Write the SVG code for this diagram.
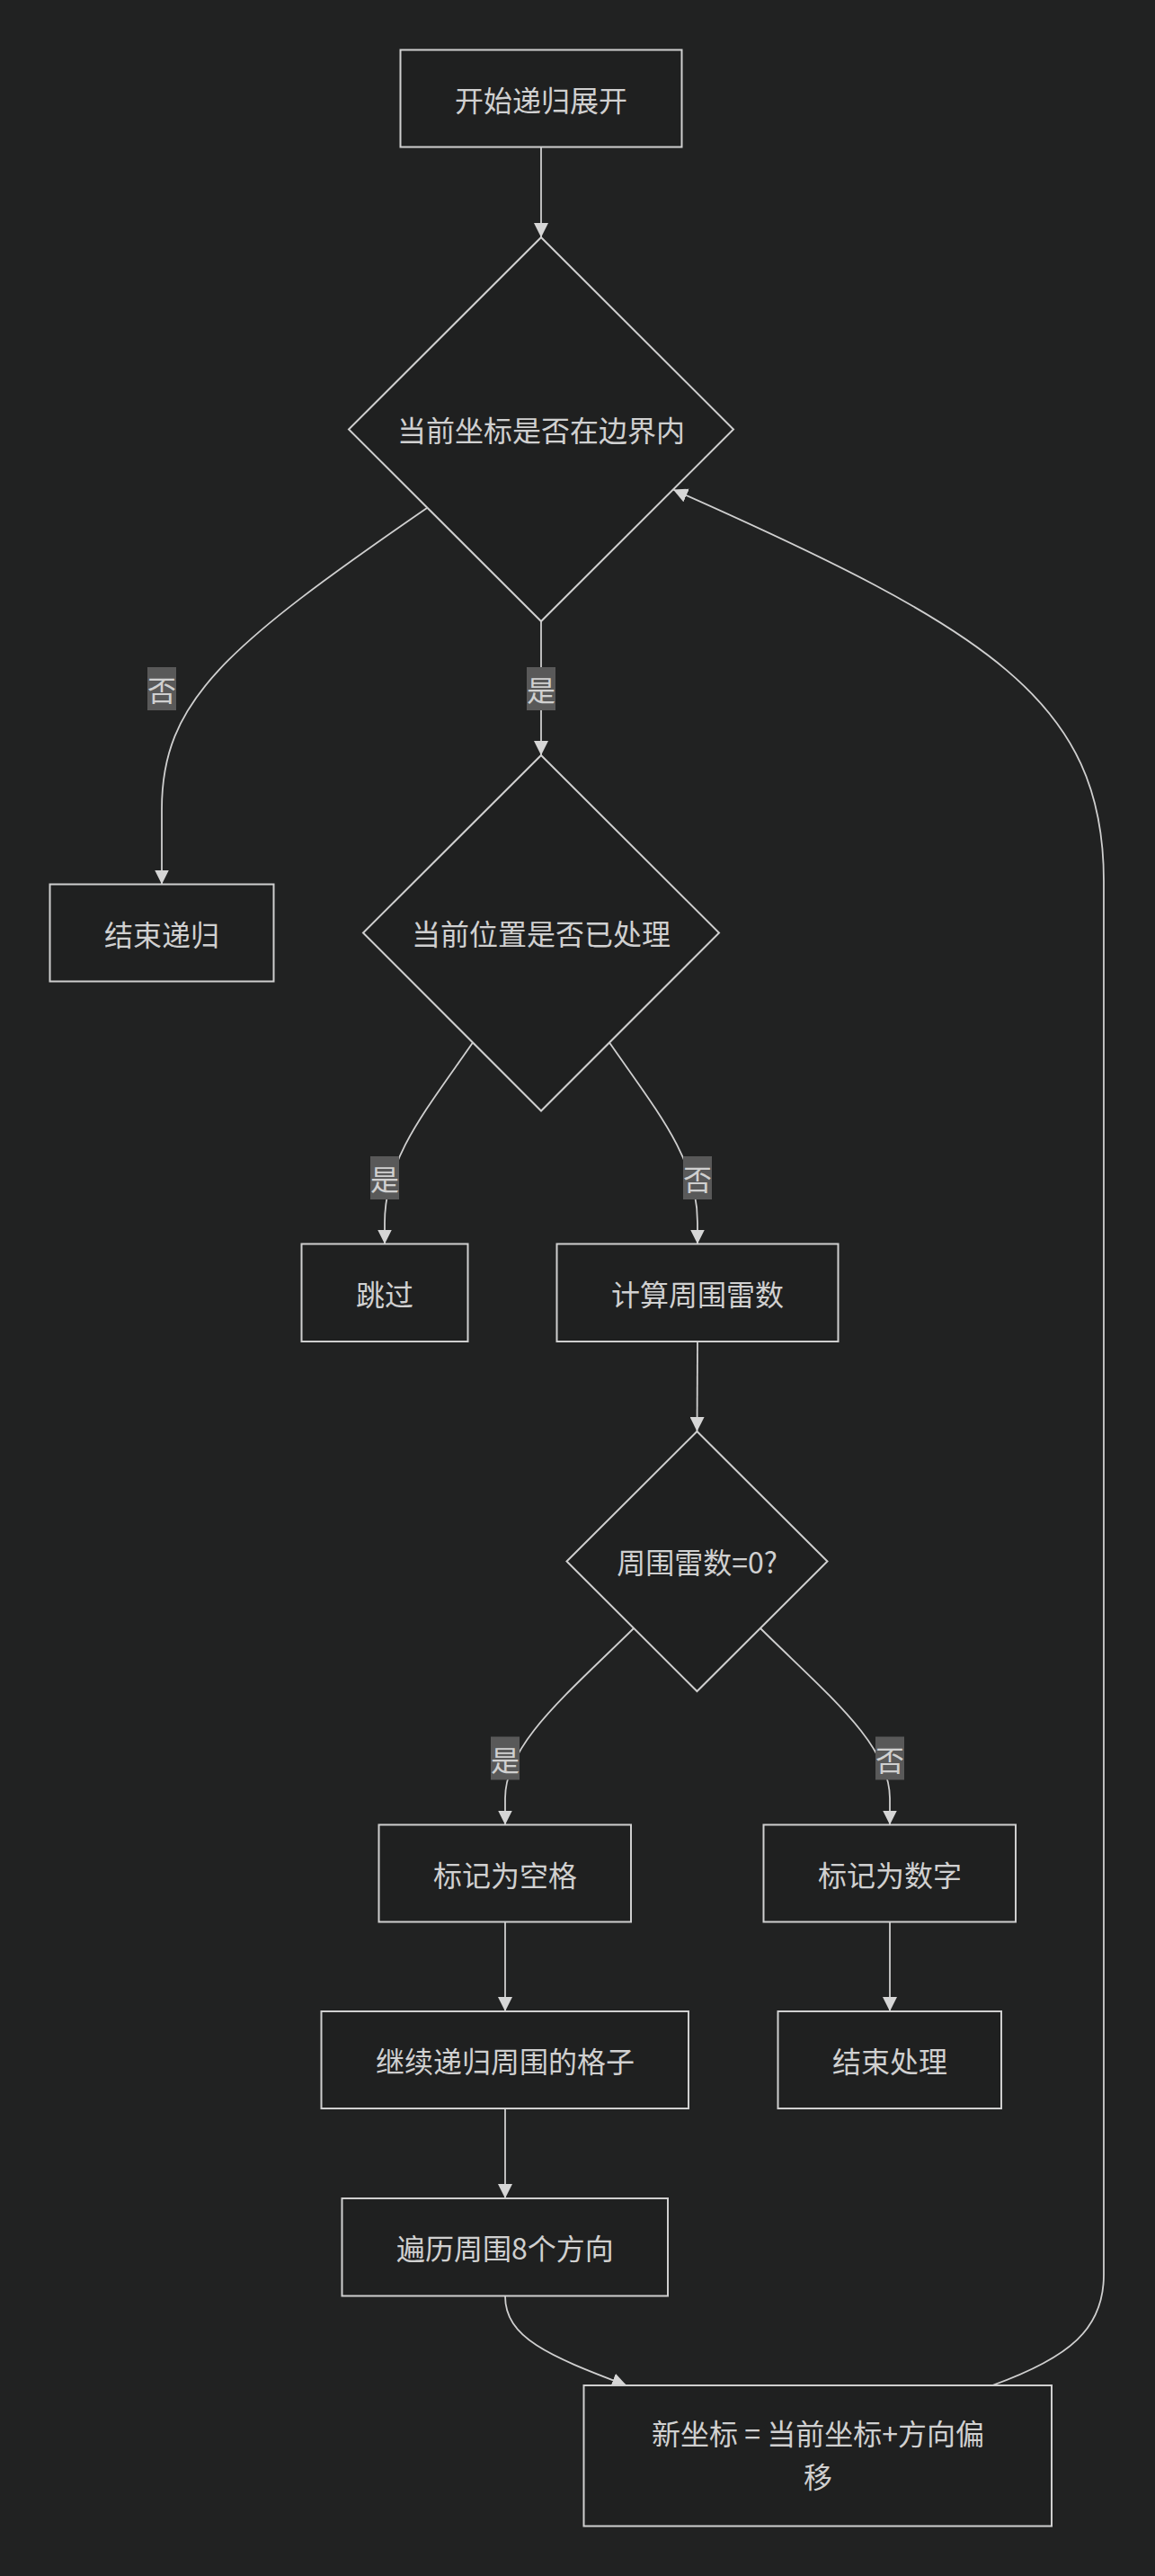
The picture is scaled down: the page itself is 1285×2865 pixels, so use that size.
<svg xmlns="http://www.w3.org/2000/svg" width="1285" height="2865" viewBox="0 0 1285 2865">
<style>
.bg{fill:#212222}
.node rect,.node polygon{fill:#1f2020;stroke:#cfcfcf;stroke-width:2}
.node text,.lbl text{font-family:"Noto Sans CJK SC","Noto Sans",sans-serif;font-size:32px;fill:#d0d0d0;text-anchor:middle;dominant-baseline:central}
.edge{fill:none;stroke:#cfcfcf;stroke-width:1.8}
.lbl rect{fill:#595959}
</style>
<defs>
<marker id="arrow" markerUnits="userSpaceOnUse" markerWidth="16" markerHeight="16" refX="16" refY="8" orient="auto">
<path d="M0,0 L16,8 L0,16 z" fill="#d6d6d6"/>
</marker>
</defs>
<rect class="bg" x="0" y="0" width="1285" height="2865"/>
<g id="connectors">
<path class="edge" marker-end="url(#arrow)" d="M602,163.5 L602,264"/>
<path class="edge" marker-end="url(#arrow)" d="M475,565 C250,720 180,780 180,900 L180,983.5"/>
<path class="edge" marker-end="url(#arrow)" d="M602,691 L602,840"/>
<path class="edge" marker-end="url(#arrow)" d="M526,1159.5 C470,1240 428,1290 428,1360 L428,1383.5"/>
<path class="edge" marker-end="url(#arrow)" d="M678,1159.5 C734,1240 776,1290 776,1360 L776,1383.5"/>
<path class="edge" marker-end="url(#arrow)" d="M776,1492 L775.5,1592"/>
<path class="edge" marker-end="url(#arrow)" d="M705,1811 C630,1885 562,1940 562,2000 L562,2029.5"/>
<path class="edge" marker-end="url(#arrow)" d="M846,1811 C921,1885 990,1940 990,2000 L990,2029.5"/>
<path class="edge" marker-end="url(#arrow)" d="M562,2137.5 L562,2237"/>
<path class="edge" marker-end="url(#arrow)" d="M990,2137.5 L990,2237"/>
<path class="edge" marker-end="url(#arrow)" d="M562,2345 L562,2445"/>
<path class="edge" marker-end="url(#arrow)" d="M562,2553.5 C562,2600 610,2620 697,2653"/>
<path class="edge" marker-end="url(#arrow)" d="M1104,2653 C1190,2622 1228,2590 1228,2530 L1228,980 C1228,780 1100,700 749,544.5"/>
</g>
<g id="edge-labels">
<g class="lbl"><rect x="164" y="742" width="32" height="48"/><text x="180" y="766">否</text></g>
<g class="lbl"><rect x="586" y="742" width="32" height="48"/><text x="602" y="766">是</text></g>
<g class="lbl"><rect x="412" y="1286" width="32" height="48"/><text x="428" y="1310">是</text></g>
<g class="lbl"><rect x="760" y="1286" width="32" height="48"/><text x="776" y="1310">否</text></g>
<g class="lbl"><rect x="546" y="1931.5" width="32" height="48"/><text x="562" y="1955.5">是</text></g>
<g class="lbl"><rect x="974" y="1931.5" width="32" height="48"/><text x="990" y="1955.5">否</text></g>
</g>
<g id="n_start" class="node"><rect x="445.5" y="55.5" width="313" height="108"/><text x="602" y="109.5">开始递归展开</text></g>
<g id="n_inbounds" class="node"><polygon points="602,264 816,477.5 602,691 388,477.5"/><text x="602" y="477">当前坐标是否在边界内</text></g>
<g id="n_endrec" class="node"><rect x="55.5" y="983.5" width="249" height="108"/><text x="180" y="1037.5">结束递归</text></g>
<g id="n_processed" class="node"><polygon points="602,840 800,1037.5 602,1235.5 404,1037.5"/><text x="602" y="1037">当前位置是否已处理</text></g>
<g id="n_skip" class="node"><rect x="335.5" y="1383.5" width="185" height="108.5"/><text x="428" y="1438">跳过</text></g>
<g id="n_calc" class="node"><rect x="619.5" y="1383.5" width="313" height="108.5"/><text x="776" y="1438">计算周围雷数</text></g>
<g id="n_zero" class="node"><polygon points="775.5,1592 920.5,1736.5 775.5,1881 630.5,1736.5"/><text x="775.5" y="1736">周围雷数=0?</text></g>
<g id="n_blank" class="node"><rect x="421.5" y="2029.5" width="280.5" height="108"/><text x="562" y="2083.5">标记为空格</text></g>
<g id="n_number" class="node"><rect x="849.5" y="2029.5" width="280.5" height="108"/><text x="990" y="2083.5">标记为数字</text></g>
<g id="n_continue" class="node"><rect x="357.5" y="2237" width="408.5" height="108"/><text x="562" y="2291">继续递归周围的格子</text></g>
<g id="n_endproc" class="node"><rect x="865.5" y="2237" width="248.5" height="108"/><text x="990" y="2291">结束处理</text></g>
<g id="n_traverse" class="node"><rect x="380.5" y="2445" width="362.5" height="108.5"/><text x="562" y="2499">遍历周围8个方向</text></g>
<g id="n_newcoord" class="node"><rect x="649.5" y="2653" width="520.5" height="156.5"/><text x="910" y="2705">新坐标 = 当前坐标+方向偏</text><text x="910" y="2753">移</text></g>
</svg>
